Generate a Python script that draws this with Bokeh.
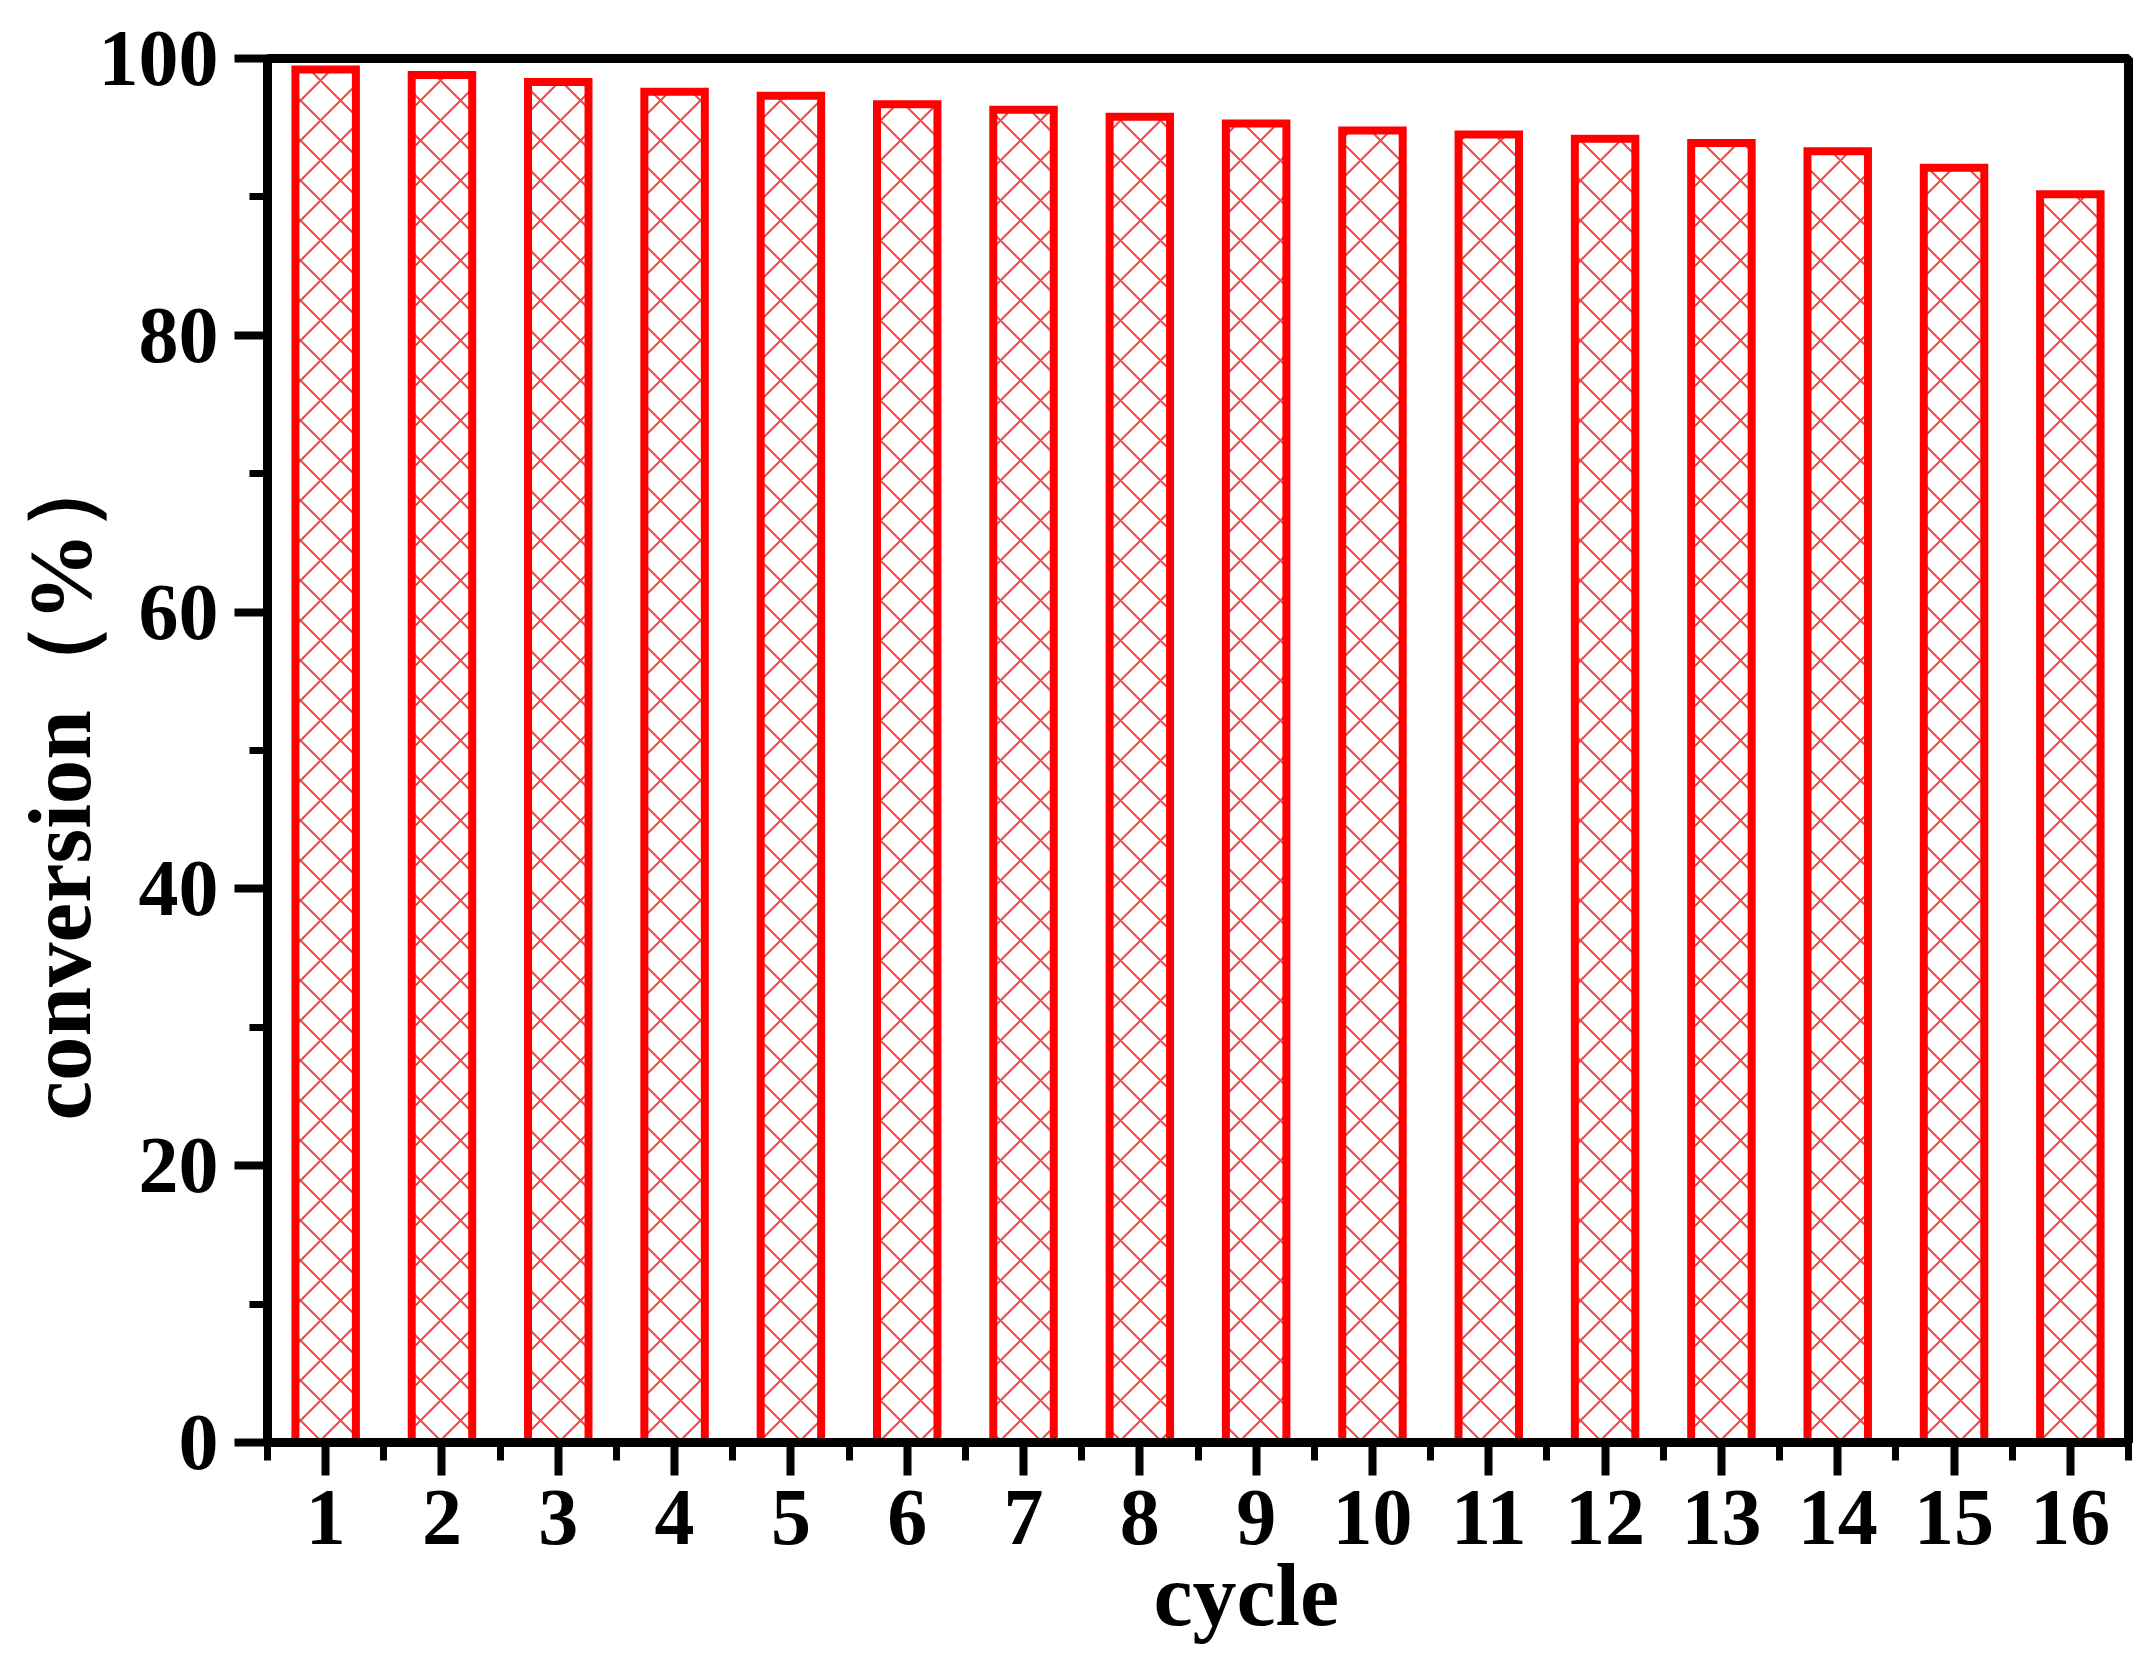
from bokeh.plotting import figure
from bokeh.models import FixedTicker, Range1d, Title, ColumnDataSource
from bokeh.embed import file_html
from bokeh.resources import INLINE

# ---- data ----
cycles = list(range(1, 17))
conversion = [99.2, 98.8, 98.3, 97.6, 97.3, 96.7, 96.3, 95.8,
              95.3, 94.8, 94.5, 94.2, 93.9, 93.3, 92.1, 90.2]
y_major_ticks = [0, 20, 40, 60, 80, 100]
x_label = "cycle"
y_label = "conversion（%）"

x_minor_ticks = [c - 0.5 for c in cycles] + [cycles[-1] + 0.5]
y_minor_ticks = [t + 10 for t in y_major_ticks[:-1]]

W, H = 2145, 1675
FONT = "Liberation Serif"

p = figure(width=W, height=H,
           x_range=Range1d(cycles[0] - 0.5, cycles[-1] + 0.5),
           y_range=Range1d(0, 100),
           output_backend="svg", toolbar_location=None,
           min_border_left=267, min_border_right=17,
           min_border_top=58, min_border_bottom=233)

p.background_fill_color = "white"
p.border_fill_color = "white"
p.xgrid.visible = False
p.ygrid.visible = False
p.outline_line_color = "black"
p.outline_line_width = 9

src = ColumnDataSource(dict(x=cycles, top=conversion))
p.vbar(x="x", top="top", bottom=0, width=0.52, source=src,
       fill_color="white", line_color="#ff0000", line_width=8,
       line_join="miter",
       hatch_pattern="diagonal_cross", hatch_color="#ff2020",
       hatch_scale=40, hatch_weight=2, hatch_alpha=0.85)

for ax in (p.xaxis[0], p.yaxis[0]):
    ax.axis_line_width = 9
    ax.axis_line_color = "black"
    ax.major_tick_line_width = 8
    ax.minor_tick_line_width = 7
    ax.major_tick_out = 33
    ax.major_tick_in = 0
    ax.minor_tick_out = 18
    ax.minor_tick_in = 0
    ax.major_label_text_font = FONT
    ax.major_label_text_font_style = "bold"
    ax.major_label_text_font_size = "80px"
    ax.major_label_text_color = "black"

p.xaxis[0].ticker = FixedTicker(ticks=cycles, minor_ticks=x_minor_ticks)
p.yaxis[0].ticker = FixedTicker(ticks=y_major_ticks, minor_ticks=y_minor_ticks)
p.xaxis[0].major_label_standoff = 15
p.yaxis[0].major_label_standoff = 16

xt = Title(text=x_label, align="left", offset=886, standoff=-3,
           text_font=FONT, text_font_style="bold", text_font_size="88px",
           text_color="black")
p.add_layout(xt, "below")

yt = Title(text=y_label, align="left", offset=322, standoff=-27,
           text_font=FONT, text_font_style="bold", text_font_size="89px",
           text_color="black")
p.add_layout(yt, "left")

# invisible spacer keeping the y title off the page edge
spacer = Title(text="x", text_alpha=0, text_font_size="1px", standoff=25)
p.add_layout(spacer, "left")

open("out.html", "w").write(file_html(p, INLINE))
